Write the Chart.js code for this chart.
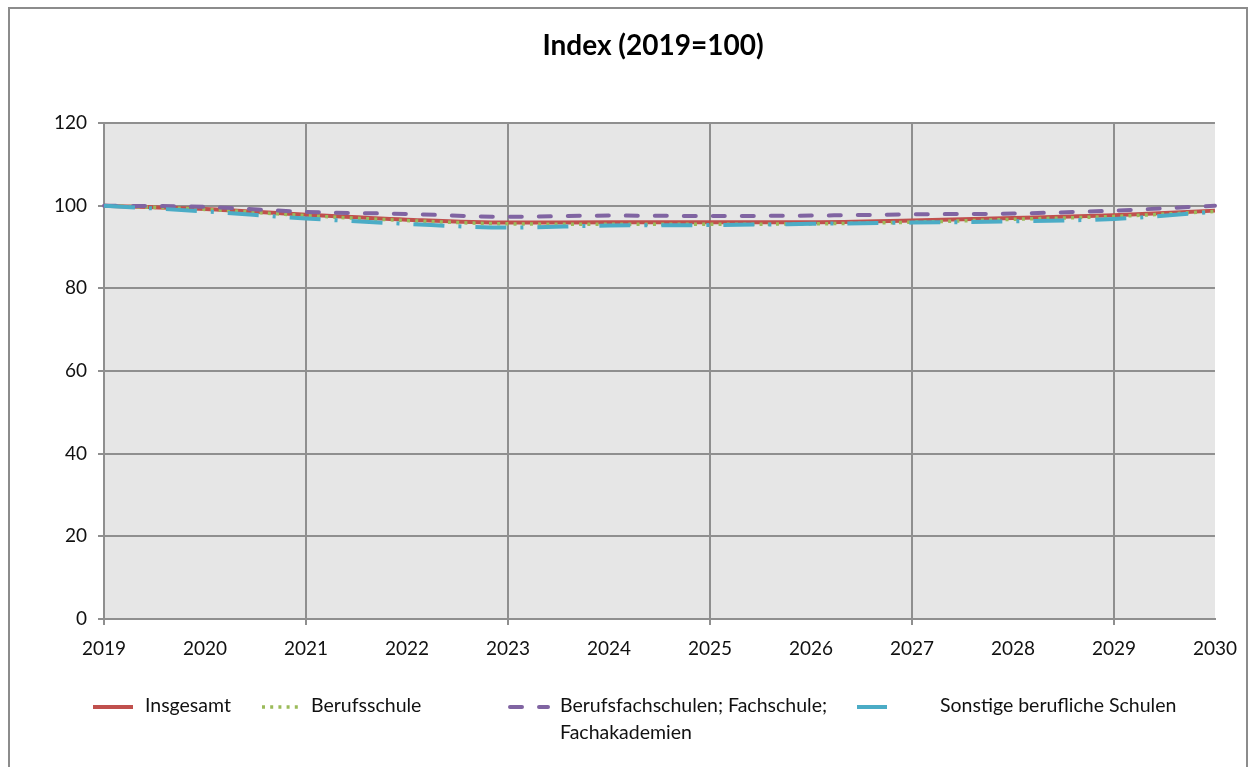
<!DOCTYPE html>
<html>
<head>
<meta charset="utf-8">
<script src="https://cdn.jsdelivr.net/npm/chart.js@4/dist/chart.umd.min.js"></script>
<style>
    body { margin: 0; background: #fff; }
    #wrap { width: 1249px; height: 767px; }
</style>
</head>
<body>
<div id="wrap"><canvas id="myChart" width="1249" height="767"></canvas></div>
<script>
// years on the x axis
const years = ['2019', '2020', '2021', '2022', '2023', '2024', '2025', '2026', '2027', '2028', '2029', '2030'];

// index values (2019 = 100)
const insgesamt = [100, 99.2, 97.8, 96.6, 95.9, 96.0, 96.0, 96.0, 96.4, 97.0, 97.7, 98.8];
const berufsschule = [100, 99.1, 97.6, 96.4, 95.6, 95.5, 95.5, 95.6, 96.0, 96.7, 97.4, 98.6];
const berufsfach = [100, 99.7, 98.5, 98.0, 97.3, 97.6, 97.5, 97.6, 97.9, 98.1, 98.8, 100.0];
const sonstige = [100, 98.6, 96.9, 95.6, 94.7, 95.2, 95.3, 95.6, 95.9, 96.2, 96.8, 98.5];

const yTicks = [0, 20, 40, 60, 80, 100, 120];

const titleText = 'Index (2019=100)';
const gridColor = '#8f8f8f';
const fontName = 'Lato, "Open Sans", sans-serif';

// legend layout: sample line start/end, text start, rows of text
const legendItems = [
    { x1: 93, x2: 133, tx: 145, lines: ['Insgesamt'] },
    { x1: 262, x2: 302, tx: 311, lines: ['Berufsschule'] },
    { x1: 510, x2: 548, tx: 560, lines: ['Berufsfachschulen; Fachschule;', 'Fachakademien'] },
    { x1: 857, x2: 887, tx: 940, lines: ['Sonstige berufliche Schulen'] }
];

const frameAndBack = {
    id: 'frameAndBack',
    beforeDraw(chart) {
        const c = chart.ctx;
        const a = chart.chartArea;
        c.save();
        c.fillStyle = '#fff';
        c.fillRect(0, 0, chart.width, chart.height);
        c.strokeStyle = '#8c8c8c';
        c.lineWidth = 2;
        c.strokeRect(9, 8, 1238, 800);
        c.fillStyle = '#e6e6e6';
        c.fillRect(a.left, a.top, a.right - a.left, a.bottom - a.top);
        c.restore();
    },
    afterDraw(chart) {
        const c = chart.ctx;
        c.save();
        c.fillStyle = '#000';
        c.font = 'bold 28px ' + fontName;
        c.textAlign = 'center';
        c.textBaseline = 'middle';
        c.fillText(titleText, 653, 46);

        c.font = '19.5px ' + fontName;
        c.textAlign = 'left';
        legendItems.forEach((it, i) => {
            const ds = chart.data.datasets[i];
            c.strokeStyle = ds.borderColor;
            c.lineWidth = ds.borderWidth;
            c.lineCap = ds.borderCapStyle || 'butt';
            c.setLineDash(i === 3 ? [] : (ds.borderDash || []));
            c.beginPath();
            c.moveTo(it.x1, 707);
            c.lineTo(it.x2, 707);
            c.stroke();
            c.setLineDash([]);
            c.fillStyle = '#111';
            it.lines.forEach((t, k) => {
                c.fillText(t, it.tx, 706 + k * 27);
            });
        });
        c.restore();
    }
};

drawChart();
function drawChart() {
    const ctx = document.getElementById('myChart').getContext('2d');
    Chart.defaults.font.family = fontName;
    Chart.defaults.font.size = 19;
    Chart.defaults.color = '#111';

    const myChart = new Chart(ctx, {
        type: 'line',
        data: {
            labels: years,
            datasets: [{
                label: 'Insgesamt',
                data: insgesamt,
                borderColor: '#c0504d',
                borderWidth: 4,
                order: 3
            }, {
                label: 'Berufsschule',
                data: berufsschule,
                borderColor: '#9bbb59',
                borderWidth: 3.5,
                borderDash: [3, 5.2],
                order: 2
            }, {
                label: 'Berufsfachschulen; Fachschule; Fachakademien',
                data: berufsfach,
                borderColor: '#8064a2',
                borderWidth: 4,
                borderDash: [12, 17],
                borderCapStyle: 'round',
                order: 1
            }, {
                label: 'Sonstige berufliche Schulen',
                data: sonstige,
                borderColor: '#4bacc6',
                borderWidth: 4,
                borderDash: [31, 14, 3, 14],
                order: 0
            }]
        },
        options: {
            responsive: false,
            animation: false,
            elements: {
                point: { radius: 0 },
                line: { tension: 0.35, cubicInterpolationMode: 'monotone' }
            },
            layout: {
                padding: { left: 0, top: 123, right: 33, bottom: 108 }
            },
            plugins: {
                legend: { display: false },
                title: { display: false },
                tooltip: { enabled: false }
            },
            scales: {
                x: {
                    type: 'category',
                    offset: false,
                    afterFit(scale) { scale.height = 40; },
                    grid: {
                        offset: false,
                        lineWidth: 2,
                        tickLength: 6,
                        color: (c) => (c.index % 2 === 0 ? gridColor : 'rgba(0,0,0,0)')
                    },
                    border: { display: true, color: gridColor, width: 2 },
                    ticks: {
                        autoSkip: false,
                        maxRotation: 0,
                        padding: 12
                    }
                },
                y: {
                    min: 0,
                    max: 120,
                    afterFit(scale) { scale.width = 104; },
                    afterBuildTicks(scale) {
                        scale.ticks = yTicks.map(v => ({ value: v }));
                    },
                    grid: { color: gridColor, lineWidth: 2, tickLength: 6 },
                    border: { display: true, color: gridColor, width: 2 },
                    ticks: { padding: 11 }
                }
            }
        },
        plugins: [frameAndBack]
    });
}
</script>
</body>
</html>
